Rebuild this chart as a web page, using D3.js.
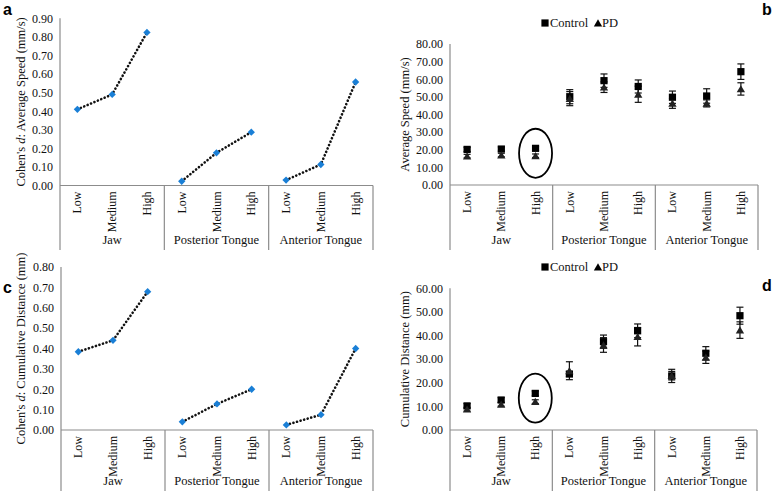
<!DOCTYPE html>
<html><head><meta charset="utf-8">
<script src="https://cdn.jsdelivr.net/npm/d3@7"></script>
<style>
body{margin:0;background:#fff}
svg{display:block}
svg text{font-family:"Liberation Serif","Times New Roman",serif}
svg text.letter{font-family:"Liberation Sans",Arial,sans-serif;font-weight:bold}
</style>
</head><body>
<script>
const levels = ["Low","Medium","High"];
const groups = ["Jaw","Posterior Tongue","Anterior Tongue"];
const categories = groups.flatMap(g => levels.map(l => g + "|" + l));

// Panel a: Cohen's d, average speed
const cohenSpeed = [0.41,0.49,0.824, 0.023,0.176,0.287, 0.029,0.113,0.557];
// Panel c: Cohen's d, cumulative distance
const cohenDist = [0.384,0.44,0.679, 0.04,0.128,0.20, 0.025,0.075,0.40];

// Panel b: average speed (mm/s)
const speedControl    = [20.2,20.4,20.8, 50.1,59.2,55.9, 49.8,50.5,64.3];
const speedControlErr = [1.2,1.2,1.2, 4.0,3.8,3.7, 3.5,4.1,4.4];
const speedPD         = [16.4,17.0,16.6, 49.0,55.5,51.5, 46.3,46.3,54.5];
const speedPDErr      = [1.0,1.0,1.0, 4.0,3.0,4.6, 2.8,2.0,3.5];

// Panel d: cumulative distance (mm)
const distControl    = [10.2,12.7,15.5, 23.7,37.4,42.0, 22.9,32.5,48.4];
const distControlErr = [1.0,1.0,1.0, 1.0,2.8,2.9, 2.8,2.8,3.6];
const distPD         = [8.8,10.9,12.0, 25.1,36.0,39.5, 23.0,30.8,42.3];
const distPDErr      = [0.8,0.8,0.8, 3.8,3.1,3.9, 1.8,2.6,3.5];

const speedTicks = [0,10,20,30,40,50,60,70,80];
const distTicks = [0,10,20,30,40,50,60];
const cohenSpeedTicks = [0,0.1,0.2,0.3,0.4,0.5,0.6,0.7,0.8,0.9];
const cohenDistTicks = [0,0.1,0.2,0.3,0.4,0.5,0.6,0.7,0.8];

const W = 774, H = 496;
const svg = d3.select("body").append("svg").attr("width", W).attr("height", H);
const SERIF = "\"Liberation Serif\", \"Times New Roman\", serif";
const AX = "#8c8c8c";

function txt(sel, size) {
  return sel.style("font-family", SERIF).style("font-size", size + "px").attr("fill", "#111");
}

function frame(cfg) {
  const x = d3.scaleBand().domain(categories).range([cfg.x0, cfg.x1]);
  const y = d3.scaleLinear().domain([0, cfg.max]).range([cfg.yBase, cfg.yTop]);
  const g = svg.append("g");
  const yAxis = d3.axisLeft(y).tickValues(cfg.ticks).tickFormat(d3.format(".2f")).tickSize(0).tickPadding(7);
  const ya = g.append("g").attr("transform", `translate(${cfg.x0},0)`).call(yAxis)
    .attr("font-family", null).attr("font-size", null);
  ya.select(".domain").remove();
  txt(ya.selectAll("text"), 12);
  g.append("line").attr("x1", cfg.x0).attr("x2", cfg.x0).attr("y1", cfg.yTop).attr("y2", cfg.bottom).attr("stroke", AX).attr("stroke-width", 1.2);
  g.append("line").attr("x1", cfg.x0).attr("x2", cfg.x1).attr("y1", cfg.yBase).attr("y2", cfg.yBase).attr("stroke", AX).attr("stroke-width", 1.2);
  groups.forEach(gr => {
    const xr = x(gr + "|High") + x.bandwidth();
    g.append("line").attr("x1", xr).attr("x2", xr).attr("y1", cfg.yBase).attr("y2", cfg.bottom).attr("stroke", AX).attr("stroke-width", 1.2);
    const xl = x(gr + "|Low");
    txt(g.append("text").attr("x", (xl + xr) / 2).attr("y", cfg.bottom - 6).attr("text-anchor", "middle"), 12.5).text(gr);
  });
  categories.forEach(c => {
    const cx = x(c) + x.bandwidth() / 2;
    txt(g.append("text").attr("transform", `translate(${cx + 4},${cfg.yBase + 6}) rotate(-90)`)
      .attr("text-anchor", "end"), 12).text(c.split("|")[1]);
  });
  const t = txt(g.append("text").attr("transform", `translate(${cfg.titleX},${(cfg.yTop + cfg.yBase) / 2}) rotate(-90)`)
    .attr("text-anchor", "middle"), 12.5);
  cfg.title.forEach(p => { const s = t.append("tspan").text(p.t); if (p.i) s.style("font-style", "italic"); });
  svg.append("text").attr("class", "letter").attr("x", cfg.lx).attr("y", cfg.ly)
    .style("font-family", "\"Liberation Sans\", Arial, sans-serif").style("font-weight", "bold")
    .style("font-size", "16px").attr("fill", "#000").text(cfg.letter);
  return {x, y, g};
}

function cohenPanel(cfg, values) {
  const {x, y, g} = frame(cfg);
  const cx = (c) => x(c) + x.bandwidth() / 2;
  const line = d3.line().x(d => cx(d.c)).y(d => y(d.v));
  groups.forEach(gr => {
    const pts = levels.map(l => { const c = gr + "|" + l; return {c, v: values[categories.indexOf(c)]}; });
    g.append("path").attr("d", line(pts)).attr("fill", "none").attr("stroke", "#111")
      .attr("stroke-width", 2.6).attr("stroke-linecap", "round").attr("stroke-dasharray", "0.1 3.6");
  });
  const sym = d3.symbol().type(d3.symbolDiamond2).size(34);
  categories.forEach((c, i) => {
    g.append("path").attr("d", sym()).attr("transform", `translate(${cx(c)},${y(values[i])})`).attr("fill", "#1a7fd6");
  });
}

function groupPanel(cfg, ctrl, ctrlErr, pd, pdErr, ellipseVal) {
  const {x, y, g} = frame(cfg);
  const cx = (c) => x(c) + x.bandwidth() / 2;
  function errBars(vals, errs) {
    categories.forEach((c, i) => {
      const xx = cx(c), lo = y(vals[i] - errs[i]), hi = y(vals[i] + errs[i]);
      g.append("line").attr("x1", xx).attr("x2", xx).attr("y1", lo).attr("y2", hi).attr("stroke", "#111").attr("stroke-width", 1.2);
      [lo, hi].forEach(yy => g.append("line").attr("x1", xx - 3.5).attr("x2", xx + 3.5).attr("y1", yy).attr("y2", yy).attr("stroke", "#111").attr("stroke-width", 1.2));
    });
  }
  errBars(ctrl, ctrlErr);
  errBars(pd, pdErr);
  const sq = d3.symbol().type(d3.symbolSquare).size(52);
  const tri = d3.symbol().type(d3.symbolTriangle).size(30);
  categories.forEach((c, i) => {
    g.append("path").attr("d", sq()).attr("transform", `translate(${cx(c)},${y(ctrl[i])})`).attr("fill", "#000");
  });
  categories.forEach((c, i) => {
    g.append("path").attr("d", tri()).attr("transform", `translate(${cx(c)},${y(pd[i]) + 1})`).attr("fill", "#222");
  });
  g.append("ellipse").attr("cx", cx("Jaw|High")).attr("cy", y(ellipseVal)).attr("rx", 16.5).attr("ry", 24.5)
    .attr("fill", "none").attr("stroke", "#000").attr("stroke-width", 1.8);
  const lg = svg.append("g").attr("transform", `translate(${cfg.legX},${cfg.legY})`);
  lg.append("path").attr("d", sq()).attr("transform", "translate(0,-4)").attr("fill", "#000");
  txt(lg.append("text").attr("x", 5).attr("y", 0), 12.5).text("Control");
  lg.append("path").attr("d", tri()).attr("transform", "translate(53,-3)").attr("fill", "#000");
  txt(lg.append("text").attr("x", 57).attr("y", 0), 12.5).text("PD");
}

cohenPanel({x0:60, x1:373, yTop:18.3, yBase:185.5, bottom:250, max:0.9, ticks:cohenSpeedTicks,
  titleX:25, title:[{t:"Cohen's "},{t:"d",i:true},{t:":  Average Speed (mm/s)"}], letter:"a", lx:3, ly:15}, cohenSpeed);
cohenPanel({x0:61, x1:373, yTop:267, yBase:430, bottom:491, max:0.8, ticks:cohenDistTicks,
  titleX:25, title:[{t:"Cohen's "},{t:"d",i:true},{t:":  Cumulative  Distance  (mm)"}], letter:"c", lx:3, ly:293}, cohenDist);
groupPanel({x0:450, x1:758, yTop:44, yBase:185, bottom:250, max:80, ticks:speedTicks,
  titleX:409, title:[{t:"Average Speed (mm/s)"}], letter:"b", lx:762, ly:15, legX:545, legY:27},
  speedControl, speedControlErr, speedPD, speedPDErr, 18);
groupPanel({x0:450, x1:757, yTop:288.3, yBase:430, bottom:491, max:60, ticks:distTicks,
  titleX:409, title:[{t:"Cumulative  Distance  (mm)"}], letter:"d", lx:762, ly:291, legX:545, legY:271},
  distControl, distControlErr, distPD, distPDErr, 13.5);
</script>
</body></html>
